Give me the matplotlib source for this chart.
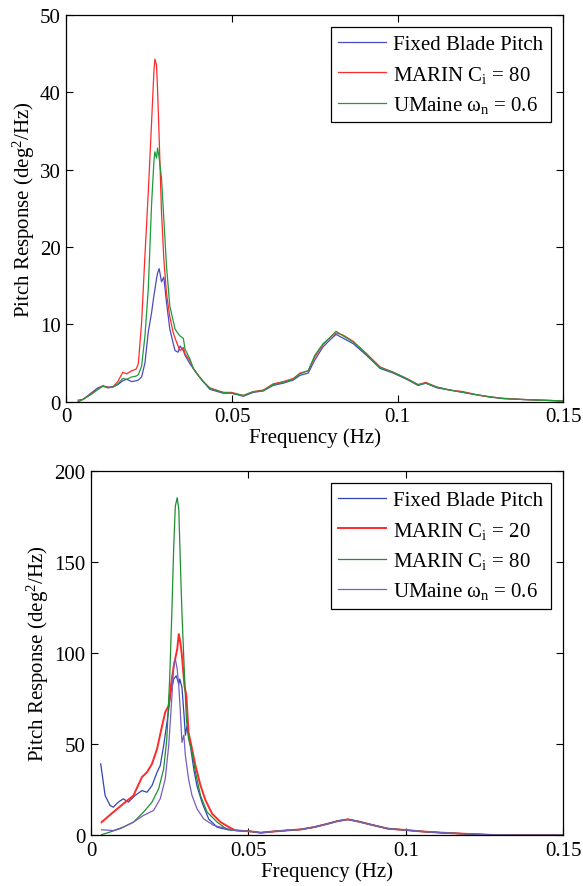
import numpy as np
import matplotlib
matplotlib.use("Agg")
import matplotlib.pyplot as plt

plt.rcParams['font.family'] = ['Liberation Serif', 'DejaVu Serif']
plt.rcParams['mathtext.fontset'] = 'custom'
plt.rcParams['mathtext.rm'] = 'Liberation Serif'
plt.rcParams['mathtext.it'] = 'Liberation Serif:italic'
plt.rcParams['font.size'] = 14

# ---------------- top panel data (Hz, deg^2/Hz) ----------------
f_top_low = [0.0035, 0.005, 0.0065, 0.008, 0.0095, 0.011, 0.0125, 0.014, 0.0155, 0.017,
             0.0182, 0.0197, 0.021, 0.0217, 0.0227, 0.0237, 0.0247, 0.0257, 0.0264, 0.0267,
             0.0272, 0.0275, 0.028, 0.0287, 0.0294, 0.0302, 0.0312, 0.0322, 0.0328, 0.0337,
             0.0343, 0.0353, 0.0358, 0.0373, 0.0383, 0.0398, 0.0413, 0.0433]
red_top_low = [0.0, 0.3, 0.7, 1.2, 1.6, 2.1, 1.8, 1.9, 2.6, 3.8,
               3.6, 4.0, 4.2, 4.9, 10.3, 18.9, 27.0, 36.1, 42.6, 44.3,
               43.5, 40.5, 34.0, 24.5, 18.5, 14.0, 11.0, 9.0, 8.2, 7.2,
               6.6, 7.0, 6.2, 5.3, 4.3, 3.4, 2.6, 1.8]
green_top_low = [0.0, 0.3, 0.7, 1.1, 1.6, 2.0, 1.8, 1.9, 2.3, 3.0,
                 2.9, 3.2, 3.3, 3.5, 4.6, 8.5, 14.5, 25.5, 31.0, 32.3,
                 31.5, 32.8, 31.5, 28.9, 23.6, 17.6, 12.4, 10.5, 9.4, 8.8,
                 8.5, 8.2, 6.8, 5.5, 4.3, 3.4, 2.6, 1.7]
blue_top_low = [0.2, 0.3, 0.8, 1.3, 1.8, 2.0, 1.9, 1.9, 2.2, 2.7,
                2.9, 2.6, 2.7, 2.8, 3.2, 5.0, 9.0, 11.5, 13.7, 14.5,
                15.9, 16.6, 17.2, 15.5, 16.1, 12.9, 9.4, 7.6, 6.6, 6.4,
                7.2, 6.6, 6.0, 4.9, 4.3, 3.4, 2.6, 1.6]

f_top_tail = [0.0473, 0.0499, 0.0534, 0.0564, 0.0594, 0.0624, 0.0655, 0.0685, 0.0705, 0.073,
              0.075, 0.0775, 0.0796, 0.0814, 0.0836, 0.0866, 0.0906, 0.0947, 0.0987, 0.1027,
              0.1062, 0.1085, 0.1118, 0.1158, 0.1198, 0.1238, 0.1279, 0.1319, 0.137, 0.143, 0.15]
red_top_tail = [1.2, 1.2, 0.8, 1.3, 1.5, 2.3, 2.6, 3.0, 3.7, 4.0,
                5.8, 7.4, 8.3, 8.9, 8.6, 7.8, 6.2, 4.5, 3.8, 3.0,
                2.2, 2.5, 1.9, 1.5, 1.3, 0.9, 0.6, 0.45, 0.3, 0.2, 0.1]
green_top_tail = [1.2, 1.1, 0.8, 1.3, 1.4, 2.2, 2.5, 2.9, 3.6, 4.0,
                  6.0, 7.5, 8.3, 9.1, 8.5, 7.7, 6.2, 4.4, 3.8, 3.0,
                  2.2, 2.4, 1.9, 1.5, 1.2, 0.9, 0.65, 0.4, 0.3, 0.2, 0.1]
blue_top_tail = [1.1, 1.1, 0.7, 1.2, 1.4, 2.1, 2.4, 2.8, 3.4, 3.7,
                 5.4, 7.1, 8.0, 8.7, 8.2, 7.5, 6.0, 4.3, 3.7, 2.9,
                 2.1, 2.4, 1.8, 1.5, 1.2, 0.9, 0.6, 0.4, 0.3, 0.2, 0.1]

# ---------------- bottom panel data ----------------
f_bot_blue = [0.0031, 0.0045, 0.0061, 0.0071, 0.0087, 0.0103, 0.0119, 0.014, 0.0162, 0.0178,
              0.0194, 0.021, 0.022, 0.0231, 0.0243, 0.0254, 0.0263, 0.0271, 0.0279, 0.0282,
              0.0289, 0.0295, 0.03, 0.0305, 0.0316, 0.0327, 0.0337, 0.0353, 0.0374, 0.0401, 0.0433]
blue_bot = [39.3, 21.9, 16.4, 15.5, 18.3, 20.1, 18.3, 21.9, 24.6, 23.7,
            27.4, 34.7, 38.3, 49.3, 63.9, 78.5, 85.8, 87.6, 83.0, 85.8,
            81.3, 67.6, 55.0, 60.0, 49.0, 36.0, 27.0, 18.0, 9.0, 4.5, 3.2]
f_bot_red = [0.0034, 0.0071, 0.0103, 0.0135, 0.0162, 0.0178, 0.0194, 0.021, 0.0226, 0.0236,
             0.0247, 0.0254, 0.0263, 0.0274, 0.0279, 0.0284, 0.0289, 0.0297, 0.0303, 0.031,
             0.0321, 0.0332, 0.0348, 0.0364, 0.0385, 0.0412, 0.0438]
red_bot = [7.3, 12.8, 17.4, 21.9, 32.0, 34.7, 39.3, 47.5, 60.2, 67.6,
           71.2, 82.1, 93.1, 102.2, 110.5, 105.9, 98.6, 82.1, 76.7, 56.6,
           47.5, 38.3, 27.4, 19.2, 11.9, 7.3, 4.6]
f_bot_green = [0.0034, 0.0093, 0.0135, 0.0167, 0.0194, 0.0215, 0.0231, 0.0241, 0.025, 0.0257,
               0.0263, 0.0268, 0.0274, 0.0279, 0.0284, 0.0289, 0.0295, 0.0303, 0.031, 0.0321,
               0.0332, 0.0348, 0.0369, 0.0401, 0.0433]
green_bot = [0.4, 3.7, 7.3, 12.8, 18.3, 25.6, 36.5, 53.0, 85.8, 122.3,
             158.8, 180.7, 185.3, 178.9, 149.7, 122.3, 96.8, 63.9, 53.0, 45.7,
             34.7, 21.9, 12.8, 7.3, 3.2]
f_bot_purple = [0.0034, 0.0071, 0.0103, 0.0135, 0.0167, 0.0199, 0.022, 0.0236, 0.0247, 0.0254,
                0.0263, 0.0268, 0.0274, 0.0279, 0.0284, 0.0289, 0.0295, 0.03, 0.031, 0.0321,
                0.0337, 0.0358, 0.039, 0.0433]
purple_bot = [3.1, 2.7, 4.6, 7.3, 11.0, 13.7, 20.1, 31.0, 49.3, 67.6,
              93.1, 96.8, 91.3, 82.0, 67.6, 51.1, 55.0, 43.8, 31.0, 21.9,
              14.6, 9.1, 5.5, 3.7]

f_bot_tail = [0.0458, 0.0508, 0.0539, 0.0582, 0.0625, 0.0667, 0.071, 0.0752, 0.0784, 0.0816,
              0.0848, 0.089, 0.0944, 0.0997, 0.105, 0.1114, 0.1188, 0.1273, 0.135, 0.15]
bot_tail = [2.8, 2.2, 1.5, 2.2, 2.8, 3.3, 4.6, 6.4, 7.9, 8.8,
            7.7, 5.9, 3.7, 3.0, 2.2, 1.5, 0.9, 0.3, 0.2, 0.2]

labels_top = ['Fixed Blade Pitch', 'MARIN C$_\\mathrm{i}$ = 80', 'UMaine \u03c9$_\\mathrm{n}$ = 0.6']
labels_bot = ['Fixed Blade Pitch', 'MARIN C$_\\mathrm{i}$ = 20', 'MARIN C$_\\mathrm{i}$ = 80',
              'UMaine \u03c9$_\\mathrm{n}$ = 0.6']

fig = plt.figure(figsize=(5.83, 8.87), dpi=100)
ax1 = fig.add_axes([0.114, 0.546, 0.852, 0.436])
ax2 = fig.add_axes([0.156, 0.057, 0.81, 0.411])


def style(ax, ymax, yticks):
    ax.set_xlim(0, 0.15)
    ax.set_ylim(0, ymax)
    ax.set_xticks([0, 0.05, 0.1, 0.15])
    ax.set_xticklabels(['0', '0.05', '0.1', '0.15'])
    ax.set_yticks(yticks)
    ax.tick_params(direction='in', top=True, right=True, length=5, labelsize=15, pad=4)
    ax.set_xlabel('Frequency (Hz)', fontsize=15, labelpad=1)
    ax.set_ylabel('Pitch Response (deg$^2$/Hz)', fontsize=15, labelpad=2)
    for s in ax.spines.values():
        s.set_linewidth(0.9)


def legend(ax):
    leg = ax.legend(loc='upper right', fontsize=15, fancybox=False, framealpha=1,
                    edgecolor='black', handlelength=2.3, borderaxespad=0.6,
                    labelspacing=0.45, handletextpad=0.35, borderpad=0.35)
    leg.get_frame().set_linewidth(0.9)


ax1.plot(f_top_low + f_top_tail, blue_top_low + blue_top_tail, color='#4a4ac0', lw=0.9,
         label=labels_top[0])
ax1.plot(f_top_low + f_top_tail, red_top_low + red_top_tail, color='#ff2a2a', lw=0.9,
         label=labels_top[1])
ax1.plot(f_top_low + f_top_tail, green_top_low + green_top_tail, color='#1f9a3c', lw=0.9,
         label=labels_top[2])
style(ax1, 50, [0, 10, 20, 30, 40, 50])
legend(ax1)

ax2.plot(f_bot_blue + f_bot_tail, blue_bot + bot_tail, color='#2f45b5', lw=0.9,
         label=labels_bot[0])
ax2.plot(f_bot_red + f_bot_tail, red_bot + bot_tail, color='#ff2a2a', lw=1.4,
         label=labels_bot[1])
ax2.plot(f_bot_green + f_bot_tail, green_bot + bot_tail, color='#1f8f30', lw=0.9,
         label=labels_bot[2])
ax2.plot(f_bot_purple + f_bot_tail, purple_bot + bot_tail, color='#7a5cc0', lw=0.9,
         label=labels_bot[3])
style(ax2, 200, [0, 50, 100, 150, 200])
legend(ax2)

fig.savefig('out.png', dpi=100)
